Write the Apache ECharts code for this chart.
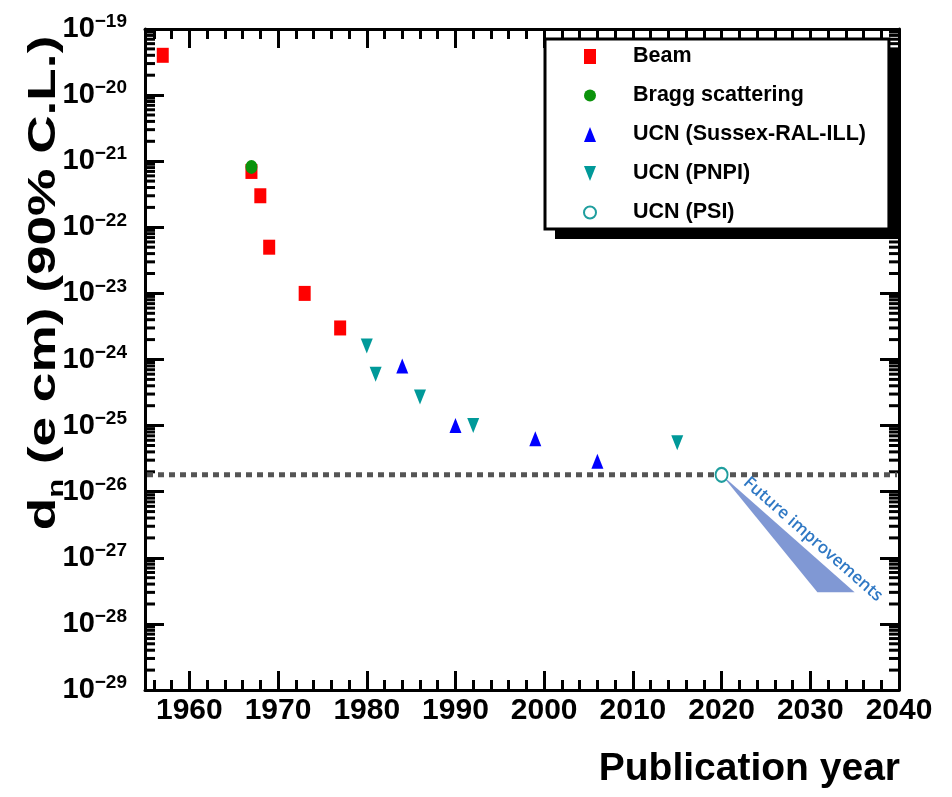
<!DOCTYPE html>
<html>
<head>
<meta charset="utf-8">
<title>Neutron EDM limits</title>
<script src="https://cdn.jsdelivr.net/npm/echarts@6/dist/echarts.min.js"></script>
<style>
  html, body { margin: 0; padding: 0; background: #fff; }
  #chart { width: 952px; height: 797px; }
</style>
</head>
<body>
<div id="chart"></div>
<script>
// upper limits on the neutron EDM (e cm, 90% C.L.) by publication year
const beamYears = [1957, 1967, 1968, 1969, 1973, 1977];
const beamEdm = [4e-20, 7e-22, 3e-22, 5e-23, 1e-23, 3e-24];
const braggYears = [1967];
const braggEdm = [8.2e-22];
const sussexYears = [1984, 1990, 1999, 2006];
const sussexEdm = [8e-25, 1e-25, 6.3e-26, 2.9e-26];
const pnpiYears = [1980, 1981, 1986, 1992, 2015];
const pnpiEdm = [1.6e-24, 6e-25, 2.7e-25, 1e-25, 5.5e-26];
const psiYears = [2020];
const psiEdm = [1.8e-26];
const currentLimit = 1.8e-26;

// "Future improvements" wedge: apex, lower left, lower right
const futureYears = [2020, 2030.8, 2035];
const futureEdm = [1.8e-26, 3e-28, 3e-28];
const futureLabelAt = [2030.3, 1.9e-27];

// tick lists
const xMajorTicks = [1960, 1970, 1980, 1990, 2000, 2010, 2020, 2030, 2040];
const xMinorTicks = [1956, 1958, 1962, 1964, 1966, 1968, 1972, 1974, 1976, 1978,
  1982, 1984, 1986, 1988, 1992, 1994, 1996, 1998, 2002, 2004, 2006, 2008,
  2012, 2014, 2016, 2018, 2022, 2024, 2026, 2028, 2032, 2034, 2036, 2038];
const yMajorTicks = [1e-29, 1e-28, 1e-27, 1e-26, 1e-25, 1e-24, 1e-23, 1e-22, 1e-21, 1e-20, 1e-19];
const yMinorSteps = [2, 3, 4, 5, 6, 7, 8, 9];

const yMinorTicks = [];
yMajorTicks.slice(0, -1).forEach((d) => yMinorSteps.forEach((m) => yMinorTicks.push(m * d)));

const X_MIN = 1955;
const X_MAX = 2040;
const SANS = "'Liberation Sans', Arial, Helvetica, sans-serif";
const DOWN_TRIANGLE = "path://M0,0L12,0L6,15Z";

function toPairs(xs, ys) {
  return xs.map((x, i) => [x, ys[i]]);
}

// one axis per side for major ticks, one for minor ticks
function xAxisFor(position, ticks, len, showLine, showLabel) {
  return {
    type: "value",
    position: position,
    min: X_MIN,
    max: X_MAX,
    axisLine: { show: showLine, onZero: false, lineStyle: { color: "#000", width: 3 } },
    axisTick: { show: true, inside: true, length: len, customValues: ticks, lineStyle: { color: "#000", width: 3 } },
    axisLabel: {
      show: showLabel,
      customValues: ticks,
      formatter: (v) => String(v),
      showMinLabel: true,
      showMaxLabel: true,
      hideOverlap: false,
      margin: 6,
      color: "#000",
      fontFamily: SANS,
      fontWeight: "bold",
      fontSize: 30,
    },
    splitLine: { show: false },
  };
}

function yAxisFor(position, showLabel) {
  return {
    type: "log",
    logBase: 10,
    position: position,
    min: 1e-29,
    max: 1e-19,
    axisLine: { show: true, onZero: false, lineStyle: { color: "#000", width: 3 } },
    axisTick: { show: true, inside: true, length: 19, customValues: yMajorTicks, lineStyle: { color: "#000", width: 3 } },
    axisLabel: {
      show: showLabel,
      customValues: yMajorTicks,
      showMinLabel: true,
      showMaxLabel: true,
      hideOverlap: false,
      margin: 18,
      formatter: (v) => "{b|10}{s|\u2212" + -Math.round(Math.log10(v)) + "}",
      rich: {
        b: { fontFamily: SANS, fontWeight: "bold", fontSize: 29, lineHeight: 30, color: "#000" },
        s: { fontFamily: SANS, fontWeight: "bold", fontSize: 19, lineHeight: 19, color: "#000", padding: [0, 0, 14, 0] },
      },
    },
    splitLine: { show: false },
  };
}

const chart = echarts.init(document.getElementById("chart"), null, { renderer: "canvas" });

const option = {
  animation: false,
  backgroundColor: "#fff",
  grid: { left: 145, right: 53, top: 29, bottom: 107, containLabel: false, outerBoundsMode: "none" },
  xAxis: [
    xAxisFor("bottom", xMajorTicks, 19, true, true),
    xAxisFor("bottom", xMinorTicks, 10, false, false),
    xAxisFor("top", xMajorTicks, 19, true, false),
    xAxisFor("top", xMinorTicks, 10, false, false),
  ],
  yAxis: [yAxisFor("left", true), yAxisFor("right", false)],
  legend: {
    orient: "vertical",
    left: 545,
    top: 39,
    z: 6,
    padding: [5, 23, 4, 38],
    itemWidth: 12,
    itemHeight: 15,
    itemGap: 14,
    selectedMode: false,
    backgroundColor: "#fff",
    borderColor: "#000",
    borderWidth: 3,
    textStyle: {
      fontFamily: SANS,
      fontWeight: "bold",
      fontSize: 21.5,
      lineHeight: 25,
      color: "#000",
      padding: [0, 0, 0, 32],
    },
    data: ["Beam", "Bragg scattering", "UCN (Sussex-RAL-ILL)", "UCN (PNPI)", "UCN (PSI)"],
  },
  graphic: [
    {
      // drop shadow of the legend box
      type: "rect",
      z: 5,
      shape: { x: 555, y: 49, width: 343, height: 190 },
      style: { fill: "#000" },
    },
    {
      type: "text",
      x: 45,
      y: 283,
      rotation: Math.PI / 2,
      scaleX: 1.4,
      style: {
        text: "{a|d}{n|n}{a| (e cm) (90% C.L.)}",
        align: "center",
        verticalAlign: "middle",
        fill: "#000",
        rich: {
          a: { fontFamily: SANS, fontWeight: "bold", fontSize: 38, lineHeight: 38 },
          n: { fontFamily: SANS, fontWeight: "bold", fontSize: 22, lineHeight: 24, verticalAlign: "top", padding: [20, 0, 0, 0] },
        },
      },
    },
    {
      type: "text",
      x: 900,
      y: 769,
      style: {
        text: "Publication year",
        align: "right",
        verticalAlign: "middle",
        fill: "#000",
        fontFamily: SANS,
        fontWeight: "bold",
        fontSize: 39,
      },
    },
  ],
  series: [
    {
      // log-spaced minor ticks on the left and right frame
      name: "minorTicks",
      type: "custom",
      silent: true,
      z: 1,
      data: yMinorTicks.map((v) => [X_MIN, v]),
      encode: { x: 0, y: 1 },
      renderItem: function (params, api) {
        const v = api.value(1);
        const l = api.coord([X_MIN, v]);
        const r = api.coord([X_MAX, v]);
        const st = { stroke: "#000", lineWidth: 3 };
        return {
          type: "group",
          children: [
            { type: "line", shape: { x1: l[0], y1: l[1], x2: l[0] + 10, y2: l[1] }, style: st },
            { type: "line", shape: { x1: r[0] - 10, y1: r[1], x2: r[0], y2: r[1] }, style: st },
          ],
        };
      },
    },
    {
      name: "future",
      type: "custom",
      data: [[futureYears[0], futureEdm[0]]],
      encode: { x: 0, y: 1 },
      silent: true,
      z: 1,
      renderItem: function (params, api) {
        const pts = futureYears.map((yr, i) => api.coord([yr, futureEdm[i]]));
        const at = api.coord(futureLabelAt);
        const lineL = api.coord([X_MIN, currentLimit]);
        const lineR = api.coord([X_MAX, currentLimit]);
        return {
          type: "group",
          children: [
            {
              type: "line",
              shape: { x1: lineL[0] + 2, y1: lineL[1], x2: lineR[0] - 2, y2: lineR[1] },
              style: { stroke: "#555", lineWidth: 5, lineDash: [6, 5] },
            },
            { type: "polygon", shape: { points: pts }, style: { fill: "#8098d4" } },
            {
              type: "text",
              x: at[0],
              y: at[1],
              rotation: (-41.3 * Math.PI) / 180,
              style: {
                text: "Future improvements",
                fill: "#2f78c4",
                fontFamily: "'Open Sans', sans-serif",
                fontWeight: 600,
                fontSize: 17,
                align: "center",
                verticalAlign: "middle",
              },
            },
          ],
        };
      },
    },
    {
      name: "Beam",
      type: "scatter",
      symbol: "rect",
      symbolSize: [12, 15],
      itemStyle: { color: "#ff0000", opacity: 1 },
      data: toPairs(beamYears, beamEdm),
    },
    {
      name: "Bragg scattering",
      type: "scatter",
      symbol: "circle",
      symbolSize: [12, 14],
      itemStyle: { color: "#0b930b", opacity: 1 },
      data: toPairs(braggYears, braggEdm),
    },
    {
      name: "UCN (Sussex-RAL-ILL)",
      type: "scatter",
      symbol: "triangle",
      symbolSize: [12, 15],
      itemStyle: { color: "#0000ff", opacity: 1 },
      data: toPairs(sussexYears, sussexEdm),
    },
    {
      name: "UCN (PNPI)",
      type: "scatter",
      symbol: DOWN_TRIANGLE,
      symbolSize: [12, 15],
      itemStyle: { color: "#009999", opacity: 1 },
      data: toPairs(pnpiYears, pnpiEdm),
    },
    {
      name: "UCN (PSI)",
      type: "scatter",
      symbol: "emptyCircle",
      symbolSize: [12, 14],
      itemStyle: { color: "#1f9e9e", borderWidth: 2, opacity: 1 },
      data: toPairs(psiYears, psiEdm),
      z: 3,
    },
  ],
};

chart.setOption(option);
</script>
</body>
</html>
